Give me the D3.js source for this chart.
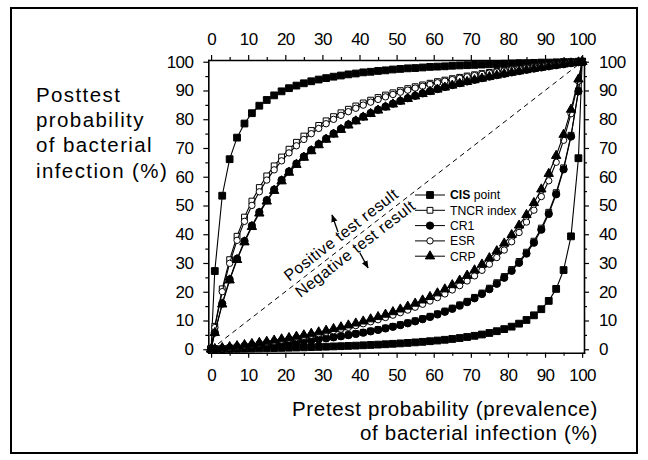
<!DOCTYPE html>
<html>
<head>
<meta charset="utf-8">
<script src="https://cdnjs.cloudflare.com/ajax/libs/d3/7.8.5/d3.min.js"></script>
<style>
body{margin:0;background:#fff;}
text{font-family:"Liberation Sans", Arial, Helvetica, sans-serif;fill:#000;}
</style>
</head>
<body>
<svg id="graph"></svg>
<script>
// pretest probability (%) of every marker
var pretest = [0,1,3,5,7,9,11,13,15,17,19,21,23,25,27,29,31,33,35,37,39,41,43,45,47,49,
  51,53,55,57,59,61,63,65,67,69,71,73,75,77,79,81,83,85,87,89,91,93,95,97,99,100];

// posttest probability (%) after a positive / negative result
var cisPos = [0, 27.2,53.4,66.1,73.6,78.5,82.1,84.7,86.7,88.3,89.7, 90.8,91.7,92.5,93.2,93.8,94.3,94.8,95.2,95.6,95.9,
  96.3,96.5,96.8,97.0,97.3,97.5,97.7,97.8,98.0,98.2, 98.3,98.4,98.6,98.7,98.8,98.9,99.0,99.1,99.2,99.3,
  99.4,99.5,99.5,99.6,99.7,99.7,99.8,99.9,99.9,100, 100];
var cisNeg = [0, 0.02,0.06,0.11,0.15,0.20,0.25,0.30,0.35,0.41,0.47, 0.53,0.59,0.66,0.73,0.81,0.89,0.98,1.07,1.16,1.26,
  1.37,1.49,1.61,1.74,1.89,2.04,2.21,2.39,2.58,2.80, 3.03,3.29,3.58,3.90,4.26,4.67,5.13,5.66,6.28,7.00,
  7.86,8.90,10.18,11.80,13.93,16.82,20.99,27.54,39.27,66.44, 100];
var tncrPos = [0, 7.99,21.01,31.16,39.30,45.96,51.53,56.24,60.28,63.79,66.86, 69.57,71.98,74.14,76.08,77.84,79.44,80.90,82.24,83.47,84.61,
  85.67,86.64,87.56,88.41,89.20,89.95,90.65,91.31,91.94,92.52, 93.08,93.61,94.11,94.58,95.04,95.47,95.88,96.27,96.64,97.00,
  97.34,97.67,97.99,98.29,98.58,98.86,99.13,99.39,99.64,99.88, 100];
var tncrNeg = [0, 0.09,0.28,0.47,0.67,0.88,1.10,1.33,1.56,1.81,2.07, 2.34,2.62,2.91,3.22,3.55,3.89,4.24,4.62,5.02,5.44,
  5.89,6.36,6.86,7.39,7.96,8.57,9.21,9.91,10.66,11.47, 12.34,13.29,14.32,15.45,16.69,18.06,19.57,21.26,23.15,25.29,
  27.73,30.53,33.77,37.59,42.14,47.64,54.46,63.10,74.42,89.91, 100];
var cr1Pos = [0, 5.80,15.87,24.30,31.47,37.63,42.99,47.69,51.84,55.54,58.86, 61.85,64.57,67.03,69.29,71.36,73.27,75.03,76.66,78.18,79.59,
  80.91,82.15,83.31,84.40,85.42,86.39,87.31,88.17,88.99,89.77, 90.51,91.22,91.89,92.53,93.14,93.72,94.28,94.82,95.33,95.82,
  96.30,96.75,97.19,97.61,98.01,98.40,98.78,99.14,99.50,99.83, 100];
var cr1Neg = [0, 0.09,0.27,0.46,0.66,0.86,1.08,1.30,1.53,1.77,2.02, 2.29,2.56,2.85,3.15,3.47,3.80,4.15,4.52,4.91,5.33,
  5.76,6.23,6.72,7.24,7.80,8.39,9.03,9.71,10.45,11.24, 12.10,13.03,14.05,15.16,16.38,17.73,19.22,20.89,22.76,24.87,
  27.28,30.05,33.27,37.06,41.59,47.08,53.90,62.57,73.99,89.70, 100];
var esrPos = [0, 7.56,20.03,29.89,37.88,44.48,50.03,54.76,58.84,62.39,65.52, 68.29,70.76,72.97,74.97,76.79,78.44,79.96,81.35,82.63,83.82,
  84.91,85.94,86.89,87.78,88.61,89.40,90.13,90.83,91.48,92.10, 92.69,93.24,93.77,94.27,94.74,95.20,95.63,96.05,96.44,96.82,
  97.19,97.53,97.87,98.19,98.50,98.79,99.08,99.35,99.62,99.88, 100];
var esrNeg = [0, 0.14,0.43,0.73,1.04,1.37,1.70,2.05,2.41,2.79,3.18, 3.59,4.01,4.46,4.92,5.41,5.92,6.45,7.01,7.60,8.22,
  8.87,9.55,10.28,11.04,11.86,12.72,13.63,14.61,15.65,16.77, 17.96,19.25,20.63,22.13,23.76,25.53,27.46,29.58,31.91,34.50,
  37.38,40.60,44.24,48.37,53.11,58.60,65.03,72.68,81.91,93.27, 100];
var crpPos = [0, 5.71,15.65,24.00,31.11,37.24,42.58,47.27,51.43,55.14,58.46, 61.46,64.19,66.67,68.94,71.02,72.94,74.72,76.36,77.89,79.32,
  80.66,81.90,83.08,84.18,85.22,86.20,87.12,88.00,88.83,89.62, 90.37,91.08,91.76,92.41,93.03,93.63,94.19,94.74,95.26,95.76,
  96.24,96.70,97.14,97.57,97.98,98.38,98.76,99.13,99.49,99.83, 100];
var crpNeg = [0, 0.16,0.48,0.81,1.15,1.51,1.88,2.26,2.66,3.08,3.51, 3.96,4.42,4.91,5.42,5.95,6.51,7.09,7.70,8.34,9.02,
  9.72,10.47,11.25,12.08,12.96,13.89,14.88,15.93,17.04,18.24, 19.51,20.88,22.35,23.94,25.65,27.51,29.53,31.74,34.16,36.83,
  39.79,43.08,46.76,50.92,55.64,61.05,67.31,74.65,83.37,93.88, 100];

var testNames = ["CIS point", "TNCR index", "CR1", "ESR", "CRP"];
var majorTicks = [0,10,20,30,40,50,60,70,80,90,100];
var minorTicks = [5,15,25,35,45,55,65,75,85,95];

//Graph settings
var screen = {width:648, height:460};
var plot = {left:208.3, right:584, top:60, bottom:352.7};

var svg = d3.select("#graph")
            .attr("width", screen.width)
            .attr("height", screen.height);

// outer frame
svg.append("rect")
   .attr("x", 11).attr("y", 8)
   .attr("width", 626).attr("height", 445)
   .attr("fill", "none")
   .attr("stroke", "#000")
   .attr("stroke-width", 2);

var xScale = d3.scaleLinear().domain([-0.75, 100.5]).range([plot.left, plot.right]);
var yScale = d3.scaleLinear().domain([-1.2, 100.6]).range([plot.bottom, plot.top]);

//Axes: major ticks with labels, minor ticks without
var drawAxis = function(axisFn, scale, tx, ty, pad){
  var g = svg.append("g").attr("transform", "translate(" + tx + "," + ty + ")");
  g.call(axisFn(scale).tickValues(majorTicks).tickSize(5).tickSizeOuter(0).tickPadding(pad));
  g.selectAll("text")
   .attr("font-size", "17px")
   .attr("letter-spacing", "-0.6px")
   .attr("font-family", "Liberation Sans, Arial, sans-serif");
  g.select(".domain").attr("stroke-width", 1.6).attr("stroke-linecap", "square");
  g.selectAll(".tick line").attr("stroke-width", 1.2);
  var m = svg.append("g").attr("transform", "translate(" + tx + "," + ty + ")");
  m.call(axisFn(scale).tickValues(minorTicks).tickSize(3).tickFormat(""));
  m.select(".domain").remove();
  m.selectAll(".tick line").attr("stroke-width", 1.2);
  return g;
};
drawAxis(d3.axisBottom, xScale, 0, plot.bottom, 11);
drawAxis(d3.axisTop, xScale, 0, plot.top, 10);
drawAxis(d3.axisLeft, yScale, plot.left, 0, 10);
drawAxis(d3.axisRight, yScale, plot.right, 0, 10);

// diagonal = no information
svg.append("line")
   .attr("x1", xScale(0)).attr("y1", yScale(0))
   .attr("x2", xScale(100)).attr("y2", yScale(100))
   .attr("stroke", "#000")
   .attr("stroke-width", 1)
   .attr("stroke-dasharray", "5,4");

//Marker styles
var markerStyles = [
  {type:d3.symbolSquare, size:46, fill:"#000"},
  {type:d3.symbolSquare, size:34, fill:"#fff"},
  {type:d3.symbolCircle, size:42, fill:"#000"},
  {type:d3.symbolCircle, size:32, fill:"#fff"},
  {type:d3.symbolTriangle, size:38, fill:"#000"}
];
var tests = [
  {name:testNames[0], pos:cisPos,  neg:cisNeg},
  {name:testNames[1], pos:tncrPos, neg:tncrNeg},
  {name:testNames[2], pos:cr1Pos,  neg:cr1Neg},
  {name:testNames[3], pos:esrPos,  neg:esrNeg},
  {name:testNames[4], pos:crpPos,  neg:crpNeg}
];

var line = d3.line()
             .x(function(d, i){ return xScale(pretest[i]); })
             .y(function(d){ return yScale(d); });

var drawMarkers = function(g, values, style){
  g.selectAll("path.mark")
   .data(values)
   .enter()
   .append("path")
   .classed("mark", true)
   .attr("d", d3.symbol().type(style.type).size(style.size))
   .attr("transform", function(d, i){ return "translate(" + xScale(pretest[i]) + "," + yScale(d) + ")"; })
   .attr("fill", style.fill)
   .attr("stroke", "#000")
   .attr("stroke-width", 1);
};

tests.forEach(function(t, k){
  var g = svg.append("g").classed("test", true);
  [t.pos, t.neg].forEach(function(values){
    g.append("path")
     .attr("d", line(values))
     .attr("fill", "none")
     .attr("stroke", "#000")
     .attr("stroke-width", 1.1);
  });
  drawMarkers(g.append("g"), t.pos, markerStyles[k]);
  drawMarkers(g.append("g"), t.neg, markerStyles[k]);
});

//Legend
var legend = svg.append("g").attr("transform", "translate(415,195)");
var legendLines = legend.selectAll("g")
                        .data(tests)
                        .enter()
                        .append("g")
                        .attr("transform", function(d, i){ return "translate(0," + (i*15.3) + ")"; });
legendLines.append("line")
           .attr("x1", 0).attr("x2", 30)
           .attr("stroke", "#000").attr("stroke-width", 1);
legendLines.append("path")
           .attr("d", function(d, i){ return d3.symbol().type(markerStyles[i].type).size(markerStyles[i].size)(); })
           .attr("transform", "translate(15,0)")
           .attr("fill", function(d, i){ return markerStyles[i].fill; })
           .attr("stroke", "#000");
var legendText = legendLines.append("text")
           .attr("x", 35)
           .attr("dy", "0.36em")
           .attr("font-size", "12.2px");
legendText.each(function(d, i){
  var t = d3.select(this);
  if (i == 0) {
    var parts = d.name.split(" ");
    t.append("tspan").attr("font-weight", "bold").text(parts[0]);
    t.append("tspan").text(" " + parts[1]);
  } else {
    t.text(d.name);
  }
});

//Axis titles
var yTitle = ["Posttest", "probability", "of bacterial", "infection (%)"];
svg.selectAll(".ytitle")
   .data(yTitle)
   .enter()
   .append("text")
   .classed("ytitle", true)
   .attr("x", 36)
   .attr("y", function(d, i){ return 102 + i*25.2; })
   .attr("font-size", "20.5px")
   .attr("letter-spacing", "1.4px")
   .text(function(d){ return d; });

var xTitle = ["Pretest probability (prevalence)", "of bacterial infection (%)"];
svg.selectAll(".xtitle")
   .data(xTitle)
   .enter()
   .append("text")
   .classed("xtitle", true)
   .attr("x", 598)
   .attr("y", function(d, i){ return 415.5 + i*24; })
   .attr("text-anchor", "end")
   .attr("font-size", "20.5px")
   .attr("letter-spacing", "0.7px")
   .text(function(d){ return d; });

//Positive / negative annotation along the diagonal
var angle = Math.atan2(yScale(100) - yScale(0), xScale(100) - xScale(0)) * 180 / Math.PI;
var notes = [
  {label:"Positive test result", x:35.0, y:39.9},
  {label:"Negative test result", x:38.8, y:35.0}
];
svg.selectAll(".note")
   .data(notes)
   .enter()
   .append("text")
   .classed("note", true)
   .attr("text-anchor", "middle")
   .attr("dy", "0.35em")
   .attr("font-size", "16px")
   .attr("letter-spacing", "0.5px")
   .attr("transform", function(d){ return "translate(" + xScale(d.x) + "," + yScale(d.y) + ") rotate(" + angle + ")"; })
   .text(function(d){ return d.label; });

svg.append("defs").append("marker")
   .attr("id", "head")
   .attr("viewBox", "0 0 10 10")
   .attr("refX", 9).attr("refY", 5)
   .attr("markerWidth", 6).attr("markerHeight", 6)
   .attr("orient", "auto")
   .append("path")
   .attr("d", "M0,1L10,5L0,9Z")
   .attr("fill", "#000");

var arrows = [
  {x1:34.2, y1:40.8, x2:32.6, y2:46.7},
  {x1:40.1, y1:33.5, x2:42.3, y2:28.3}
];
svg.selectAll(".arrow")
   .data(arrows)
   .enter()
   .append("line")
   .classed("arrow", true)
   .attr("x1", function(d){ return xScale(d.x1); })
   .attr("y1", function(d){ return yScale(d.y1); })
   .attr("x2", function(d){ return xScale(d.x2); })
   .attr("y2", function(d){ return yScale(d.y2); })
   .attr("stroke", "#000")
   .attr("stroke-width", 1.3)
   .attr("marker-end", "url(#head)");
</script>
</body>
</html>
